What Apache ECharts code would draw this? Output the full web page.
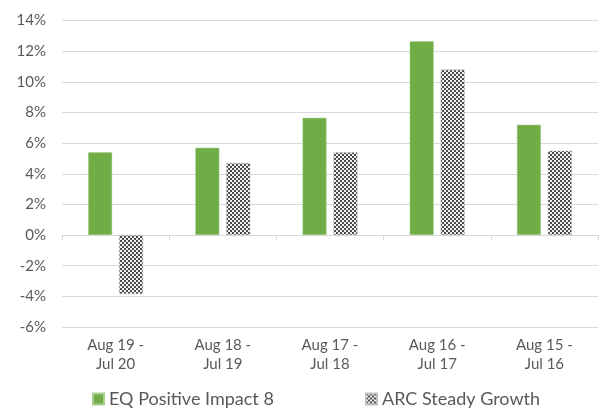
<!DOCTYPE html>
<html><head><meta charset="utf-8">
<script src="https://cdn.jsdelivr.net/npm/echarts@6/dist/echarts.min.js"></script>
<style>html,body{margin:0;padding:0;background:#fff}#c{width:600px;height:412px}</style>
</head><body><div id="c"></div>
<script>
const categories = ["Aug 19 -\nJul 20", "Aug 18 -\nJul 19", "Aug 17 -\nJul 18", "Aug 16 -\nJul 17", "Aug 15 -\nJul 16"];
const eqValues = [5.4, 5.7, 7.65, 12.65, 7.2];
const arcValues = [-3.85, 4.7, 5.4, 10.8, 5.5];
const seriesNames = ["EQ Positive Impact 8", "ARC Steady Growth"];

const pc = document.createElement('canvas');
pc.width = 4; pc.height = 4;
const ctx = pc.getContext('2d');
ctx.fillStyle = '#f2f2f2'; ctx.fillRect(0,0,4,4);
ctx.fillStyle = '#4a4a4a';
ctx.fillRect(0,0,2,2); ctx.fillRect(2,2,2,2);
const pattern = {image: pc, repeat: 'repeat'};

const font = 'Lato, "Open Sans", sans-serif';
const legendText = {fontFamily: font, fontSize: 18, color: '#595959'};
const chart = echarts.init(document.getElementById('c'), null, {renderer: 'canvas'});
chart.setOption({
  animation: false,
  grid: {left: 62, right: 2, top: 20.5, bottom: 85},
  legend: [{
    left: 87, top: 385, itemWidth: 11, itemHeight: 11, itemGap: 4, icon: 'rect',
    textStyle: legendText, data: [seriesNames[0]]
  }, {
    left: 360, top: 385, itemWidth: 11, itemHeight: 11, itemGap: 4, icon: 'rect',
    textStyle: legendText, data: [seriesNames[1]]
  }],
  xAxis: [{
    type: 'category', data: categories, position: 'bottom',
    axisLine: {show: false, onZero: false}, axisTick: {show: false},
    axisLabel: {fontFamily: font, fontSize: 15, color: '#595959', lineHeight: 19, margin: 9, interval: 0}
  }, {
    type: 'category', data: categories, position: 'bottom',
    axisLine: {show: true, onZero: true, lineStyle: {color: '#d9d9d9', width: 1}},
    axisTick: {show: true, length: 5, lineStyle: {color: '#d9d9d9'}},
    axisLabel: {show: false}
  }],
  yAxis: {
    type: 'value', min: -6, max: 14, interval: 2,
    axisLine: {show: false}, axisTick: {show: false},
    splitLine: {lineStyle: {color: '#d9d9d9', width: 1}},
    axisLabel: {fontFamily: font, fontSize: 15, color: '#595959', margin: 16, formatter: v => v + '%'}
  },
  series: [{
    name: seriesNames[0], type: 'bar', data: eqValues, barWidth: 24, barGap: '29%',
    itemStyle: {color: '#70ad47', borderColor: '#a9d08e', borderWidth: 0.5}
  }, {
    name: seriesNames[1], type: 'bar', data: arcValues, barWidth: 24, barGap: '29%',
    itemStyle: {color: pattern, borderColor: '#bfbfbf', borderWidth: 0.5}
  }]
});
</script></body></html>
